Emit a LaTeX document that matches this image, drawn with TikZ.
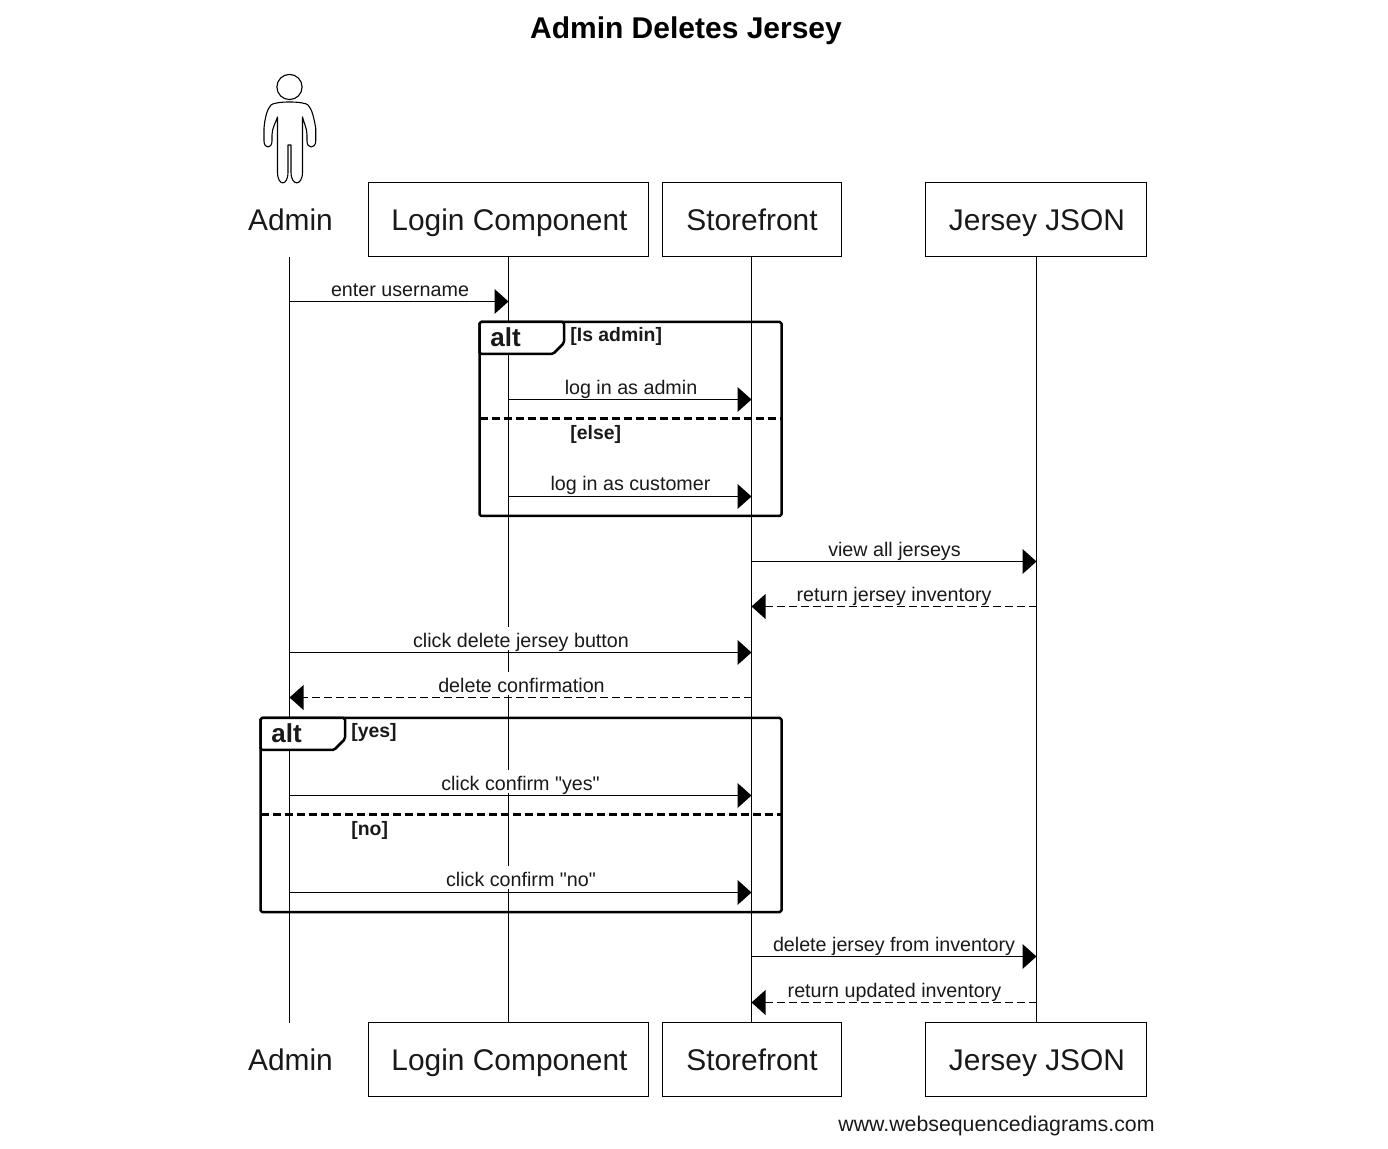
\documentclass[tikz,border=0pt]{standalone}
\usepackage{fontspec}
\setmainfont{Liberation Sans}
\newfontfamily\qfont{Liberation Sans}
\begin{document}
\begin{tikzpicture}[x=0.5pt,y=-0.5pt,
  part/.style={draw=black,line width=0.55pt,minimum width=#1*0.5pt,minimum height=37pt,inner sep=0pt,text height=10.7pt,text depth=0pt,font=\fontsize{14.95}{18}\selectfont,text=black!90},
  nameonly/.style={inner sep=0pt,text height=10.7pt,text depth=0pt,font=\fontsize{14.95}{18}\selectfont,text=black!90},
  life/.style={line width=0.55pt},
  msg/.style={line width=0.55pt},
  ret/.style={line width=0.55pt,dash pattern=on 4pt off 2pt},
  lab/.style={fill=white,anchor=base,inner ysep=0pt,inner xsep=0.5pt,text height=10pt,text depth=1.5pt,font=\fontsize{9.85}{11}\selectfont,text=black!90},
  guard/.style={inner sep=0pt,anchor=base west,font=\fontsize{9.7}{11}\selectfont\bfseries,text=black!90},
  frameb/.style={line width=1.25pt,line join=round,rounded corners=0.8pt},
  framed/.style={line width=1.25pt,dash pattern=on 4pt off 2pt},
  altl/.style={inner sep=0pt,anchor=base,font=\fontsize{13}{15}\selectfont\bfseries,text=black!90}]
\useasboundingbox (0,0) rectangle (1388,1149);
\node[font=\fontsize{15}{18}\selectfont\bfseries,inner sep=0pt,anchor=base] (title) at (686,38.5) {Admin Deletes Jersey};
% actor figure
\draw[line width=0.55pt] (289.5,87) circle (12.6);
\draw[line width=0.55pt,line join=round] (277.5,172)
  .. controls (277.5,186.5) and (288,186.5) .. (288,172) -- (288,145)
  -- (291,145) -- (291,172)
  .. controls (291,186.5) and (302.5,186.5) .. (302.5,172) -- (302.5,117)
  .. controls (303.5,122) and (307,128) .. (307,135) -- (307,141)
  .. controls (307,149) and (315.7,149) .. (315.7,141) -- (315.7,128)
  .. controls (314,118) and (312,109) .. (308,105)
  .. controls (304,101) and (275,101) .. (271,105)
  .. controls (267,109) and (265,118) .. (264,128) -- (264,141)
  .. controls (264,149) and (272,149) .. (272,141) -- (272,135)
  .. controls (272,128) and (276,122) .. (277.5,117) -- cycle;
% participants
\node[nameonly] (admT) at (290.5,219.5) {Admin};
\node[part=280] (logT) at (508.5,219.5) {\kern1pt Login Component};
\node[part=179] (stoT) at (752,219.5) {Storefront};
\node[part=221] (jerT) at (1036,219.5) {\kern1pt Jersey JSON};
\node[nameonly] (admB) at (290.5,1059.5) {Admin};
\node[part=280] (logB) at (508.5,1059.5) {\kern1pt Login Component};
\node[part=179] (stoB) at (752,1059.5) {Storefront};
\node[part=221] (jerB) at (1036,1059.5) {\kern1pt Jersey JSON};
% lifeline ends
\coordinate (aT) at (289.5,257); \coordinate (aB) at (289.5,1022.5);
\coordinate (sT) at (751.5,257); \coordinate (sB) at (751.5,1022.5);
\coordinate (jT) at (1036.5,257); \coordinate (jB) at (1036.5,1022.5);
% frames
\draw[frameb] (479.5,322) rectangle (781.5,516);
\draw[framed] (479.5,418.5) -- (781.5,418.5);
\draw[frameb] (260.5,718) rectangle (781.5,912);
\draw[framed] (260.5,814.5) -- (781.5,814.5);
% lifelines
\draw[life] (aT) -- (aB);
\draw[life] (logT) -- (logB);
\draw[life] (sT) -- (sB);
\draw[life] (jT) -- (jB);
% frame tabs
\draw[frameb,fill=white] (479.5,322) -- (564,322) -- (564,343) -- (553,354) -- (479.5,354) -- cycle;
\node[altl] (alt1) at (505.5,347) {alt};
\draw[frameb,fill=white] (260.5,718) -- (345,718) -- (345,739) -- (334,750) -- (260.5,750) -- cycle;
\node[altl] (alt2) at (286.5,743) {alt};
\node[guard] (g1) at (570,342) {[Is admin]};
\node[guard] (g2) at (570,439.5) {[else]};
\node[guard] (g3) at (351,738) {[yes]};
\node[guard] (g4) at (351,835) {[no]};
% labels (white boxes break the lifelines)
\node[lab] (m1) at (400,296.5) {enter username};
\node[lab] (m2) at (631,394.5) {log in as admin};
\node[lab] (m3) at (630.5,490.5) {log in as customer};
\node[lab] (m4) at (894.5,556.5) {view all jerseys};
\node[lab] (m5) at (894,601.5) {return jersey inventory};
\node[lab] (m6) at (521,647.5) {click delete jersey button};
\node[lab] (m7) at (521.5,692.5) {delete confirmation};
\node[lab] (m8) at (520.5,790.5) {\qfont click confirm "yes"};
\node[lab] (m9) at (521,886.5) {\qfont click confirm "no"};
\node[lab] (m10) at (894,951.5) {delete jersey from inventory};
\node[lab] (m11) at (894.5,997.5) {return updated inventory};
% messages
\newcommand{\rhead}[2]{\fill (#1,#2) -- (#1-14,#2-12.5) -- (#1-14,#2+12.5) -- cycle;}
\newcommand{\lhead}[2]{\fill (#1,#2) -- (#1+14,#2-12.5) -- (#1+14,#2+12.5) -- cycle;}
\draw[msg] (aT|-0,301.5) -- (logT.south|-0,301.5); \rhead{508.5}{301.5}
\draw[msg] (logT.south|-0,399.5) -- (sT|-0,399.5); \rhead{751.5}{399.5}
\draw[msg] (logT.south|-0,496.5) -- (sT|-0,496.5); \rhead{751.5}{496.5}
\draw[msg] (sT|-0,561.5) -- (jT|-0,561.5); \rhead{1036.5}{561.5}
\draw[ret] (jT|-0,606.5) -- (sT|-0,606.5); \lhead{751.5}{606.5}
\draw[msg] (aT|-0,652.5) -- (sT|-0,652.5); \rhead{751.5}{652.5}
\draw[ret] (sT|-0,697.5) -- (aT|-0,697.5); \lhead{289.5}{697.5}
\draw[msg] (aT|-0,795.5) -- (sT|-0,795.5); \rhead{751.5}{795.5}
\draw[msg] (aT|-0,892.5) -- (sT|-0,892.5); \rhead{751.5}{892.5}
\draw[msg] (sT|-0,956.5) -- (jT|-0,956.5); \rhead{1036.5}{956.5}
\draw[ret] (jT|-0,1002.5) -- (sT|-0,1002.5); \lhead{751.5}{1002.5}
\node[inner sep=0pt,anchor=base,font=\fontsize{10.65}{13}\selectfont,text=black!90] (wm) at (996.5,1131) {www.websequencediagrams.com};
\end{tikzpicture}
\end{document}
